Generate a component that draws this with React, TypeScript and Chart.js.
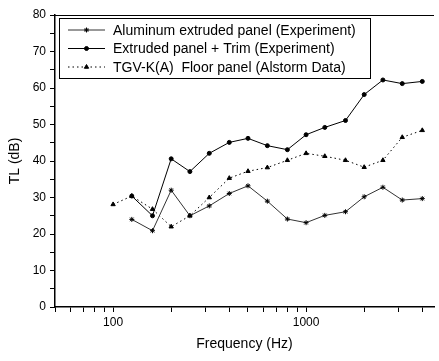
import React, { useEffect, useRef } from "react";
import { Chart, registerables } from "chart.js";
import { drawPoint } from "chart.js/helpers";

Chart.register(...registerables);

const freqs = [100, 125, 160, 200, 250, 315, 400, 500, 630, 800, 1000, 1250, 1600, 2000, 2500, 3150, 4000];
const aluminum = [null, 24.0, 20.9, 32.0, 25.0, 27.7, 31.1, 33.2, 29.0, 24.1, 23.1, 25.1, 26.1, 30.2, 32.8, 29.3, 29.7];
const trim = [null, 30.4, 25.0, 40.6, 37.1, 42.1, 45.1, 46.2, 44.2, 43.1, 47.2, 49.2, 51.1, 58.2, 62.2, 61.2, 61.8];
const tgv = [28.1, 30.4, 26.8, 22.0, 25.0, 30.0, 35.3, 37.2, 38.2, 40.2, 42.1, 41.3, 40.2, 38.3, 40.2, 46.5, 48.4];
const seriesNames = [
  "Aluminum extruded panel (Experiment)",
  "Extruded panel + Trim (Experiment)",
  "TGV-K(A)  Floor panel (Alstorm Data)",
];
const xTickValues = [50, 60, 70, 80, 90, 100, 200, 300, 400, 500, 600, 700, 800, 900, 1000, 2000, 3000, 4000];
const xTickLabels = [100, 1000];

const FONT = "'Liberation Sans', Arial, sans-serif";

function toPoints(vals: (number | null)[]) {
  return freqs.map((f, i) => ({ x: f, y: vals[i] })).filter((p) => p.y !== null);
}

const framePlugin = {
  id: "frame",
  afterDraw(chart: any) {
    const { ctx, chartArea } = chart;
    ctx.save();
    ctx.strokeStyle = "#000";
    ctx.lineWidth = 1;
    ctx.beginPath();
    ctx.moveTo(chartArea.left, chartArea.top + 0.5);
    ctx.lineTo(chartArea.right, chartArea.top + 0.5);
    ctx.stroke();

    // legend box
    const bx = 59.5, by = 18.5, bw = 311, bh = 60;
    ctx.fillStyle = "#fff";
    ctx.fillRect(bx, by, bw, bh);
    ctx.strokeRect(bx, by, bw, bh);
    const rows = [30, 48.5, 67];
    chart.data.datasets.forEach((ds: any, i: number) => {
      const y = rows[i];
      ctx.save();
      ctx.strokeStyle = ds.borderColor;
      ctx.lineWidth = ds.borderWidth;
      ctx.setLineDash(ds.borderDash || []);
      ctx.beginPath();
      ctx.moveTo(68, y);
      ctx.lineTo(105, y);
      ctx.stroke();
      ctx.setLineDash([]);
      ctx.fillStyle = ds.pointBackgroundColor;
      ctx.strokeStyle = ds.pointBorderColor;
      drawPoint(ctx, { pointStyle: ds.pointStyle, rotation: 0, radius: ds.pointRadius, borderWidth: 1 } as any, 86.5, y);
      ctx.restore();
      ctx.fillStyle = "#000";
      ctx.font = `14px ${FONT}`;
      ctx.textBaseline = "middle";
      ctx.textAlign = "left";
      ctx.fillText(ds.label, 113, y + 1);
    });
    ctx.restore();
  },
};

export default function App() {
  const ref = useRef<HTMLCanvasElement>(null);
  useEffect(() => {
    document.body.style.margin = "0";
    const chart = new Chart(ref.current!, {
      type: "line",
      data: {
        datasets: [
          {
            label: seriesNames[0],
            data: toPoints(aluminum),
            borderColor: "#333",
            borderWidth: 1,
            pointStyle: "star",
            pointRadius: 2.5,
            pointBackgroundColor: "#000",
            pointBorderColor: "#000",
          },
          {
            label: seriesNames[1],
            data: toPoints(trim),
            borderColor: "#000",
            borderWidth: 1,
            pointStyle: "circle",
            pointRadius: 2,
            pointBackgroundColor: "#000",
            pointBorderColor: "#000",
          },
          {
            label: seriesNames[2],
            data: toPoints(tgv),
            borderColor: "#000",
            borderWidth: 1,
            borderDash: [1.5, 3],
            pointStyle: "triangle",
            pointRadius: 2.5,
            pointBackgroundColor: "#000",
            pointBorderColor: "#000",
          },
        ] as any,
      },
      options: {
        animation: false,
        responsive: false,
        layout: { padding: { left: 0, top: 15, right: 0, bottom: 0 } },
        plugins: { legend: { display: false }, tooltip: { enabled: false } },
        scales: {
          x: {
            type: "logarithmic",
            min: 50,
            max: 4600,
            afterBuildTicks: (scale: any) => {
              scale.ticks = xTickValues.map((v) => ({ value: v }));
            },
            afterFit: (scale: any) => {
              scale.height = 54;
            },
            ticks: {
              autoSkip: false,
              maxRotation: 0,
              padding: 3,
              color: "#000",
              font: { family: FONT, size: 12 },
              callback: (v: any) => (xTickLabels.includes(Number(v)) ? String(v) : ""),
            },
            grid: { display: true, drawOnChartArea: false, drawTicks: true, tickLength: 5, color: "#000" },
            border: { display: true, color: "#000", width: 1.5 },
            title: {
              display: true,
              text: "Frequency (Hz)",
              color: "#000",
              font: { family: FONT, size: 14 },
              padding: 8,
            },
          },
          y: {
            type: "linear",
            min: 0,
            max: 80,
            afterFit: (scale: any) => {
              scale.width = 55;
            },
            ticks: {
              stepSize: 5,
              autoSkip: false,
              padding: 4,
              color: "#000",
              font: { family: FONT, size: 12 },
              callback: (v: any) => (Number(v) % 10 === 0 ? String(v) : ""),
            },
            grid: { display: true, drawOnChartArea: false, drawTicks: true, tickLength: 5, color: "#000" },
            border: { display: true, color: "#000", width: 1.5 },
            title: {
              display: true,
              text: "TL (dB)",
              color: "#000",
              font: { family: FONT, size: 14 },
              padding: 7,
            },
          },
        },
      },
      plugins: [framePlugin],
    });
    return () => chart.destroy();
  }, []);
  return <canvas ref={ref} width={439} height={361} style={{ display: "block" }} />;
}
